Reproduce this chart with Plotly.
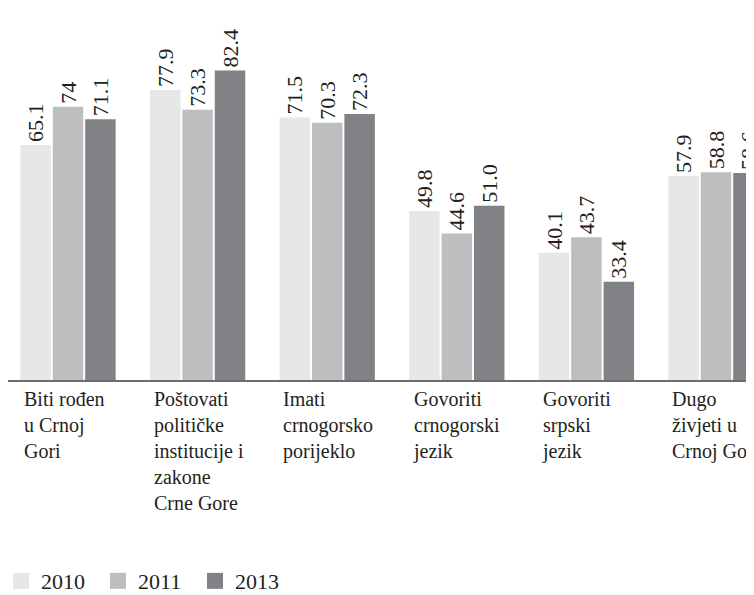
import plotly.graph_objects as go

categories = ["Biti rođen u Crnoj Gori",
              "Poštovati političke institucije i zakone Crne Gore",
              "Imati crnogorsko porijeklo",
              "Govoriti crnogorski jezik",
              "Govoriti srpski jezik",
              "Dugo živjeti u Crnoj Gori"]
category_labels = ["Biti rođen<br>u Crnoj<br>Gori",
                   "Poštovati<br>političke<br>institucije i<br>zakone<br>Crne Gore",
                   "Imati<br>crnogorsko<br>porijeklo",
                   "Govoriti<br>crnogorski<br>jezik",
                   "Govoriti<br>srpski<br>jezik",
                   "Dugo<br>živjeti u<br>Crnoj Gori"]
years = ["2010", "2011", "2013"]
values_2010 = [65.1, 77.9, 71.5, 49.8, 40.1, 57.9]
values_2011 = [74, 73.3, 70.3, 44.6, 43.7, 58.8]
values_2013 = [71.1, 82.4, 72.3, 51.0, 33.4, 58.6]
value_labels_2010 = ["65.1", "77.9", "71.5", "49.8", "40.1", "57.9"]
value_labels_2011 = ["74", "73.3", "70.3", "44.6", "43.7", "58.8"]
value_labels_2013 = ["71.1", "82.4", "72.3", "51.0", "33.4", "58.6"]

colors = ["#e6e7e8", "#bcbec0", "#808285"]
font_family = "Liberation Serif"
text_color = "#231f20"

fig = go.Figure()
series = [values_2010, values_2011, values_2013]
labels = [value_labels_2010, value_labels_2011, value_labels_2013]
for year, vals, txt, col in zip(years, series, labels, colors):
    fig.add_trace(go.Bar(x=categories, y=vals, name=year,
                         marker=dict(color=col, line=dict(width=0)),
                         text=txt, textposition="outside", textangle=-90,
                         constraintext="none",
                         textfont=dict(size=22, color=text_color, family=font_family),
                         showlegend=False))
    # bigger square swatch for the legend
    fig.add_trace(go.Scatter(x=[None], y=[None], mode="markers", name=year,
                             marker=dict(symbol="square", size=22, color=col)))

for cat, lab in zip(categories, category_labels):
    fig.add_annotation(x=cat, y=0, xref="x", yref="paper", text=lab,
                       showarrow=False, xanchor="left", yanchor="top",
                       align="left", xshift=-46, yshift=-6,
                       font=dict(size=20, color=text_color, family=font_family))

# the page body adds an 8px margin, so the figure is a bit smaller than the window
fig.update_layout(
    width=746, height=587,
    margin=dict(l=0, r=0, t=0, b=215, autoexpand=False),
    plot_bgcolor="white", paper_bgcolor="white",
    barmode="group", bargap=0.25, bargroupgap=0.06,
    font=dict(family=font_family, color=text_color, size=20),
    legend=dict(orientation="h", x=-0.0094, y=-0.484, xanchor="left", yanchor="top",
                itemsizing="trace", entrywidth=52,
                font=dict(size=22, color=text_color, family=font_family),
                bgcolor="rgba(0,0,0,0)"),
    xaxis=dict(range=[-0.463, 5.293], showticklabels=False, ticks="",
               showline=True, linecolor="#6d6e71", linewidth=2,
               showgrid=False, zeroline=False),
    yaxis=dict(range=[10.6, 96.9], visible=False, showgrid=False),
)

fig.write_html("out.html")
